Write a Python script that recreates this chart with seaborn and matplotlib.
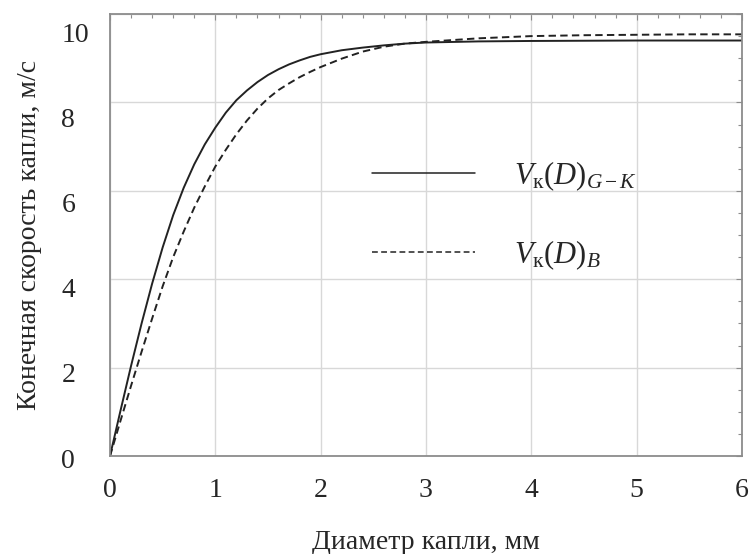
import numpy as np
import pandas as pd
import seaborn as sns
import matplotlib
matplotlib.use("Agg")
import matplotlib.pyplot as plt
from matplotlib.transforms import ScaledTranslation

# Drop diameter, mm
diam_gk = [0.0, 0.1, 0.2, 0.3, 0.4, 0.5, 0.6, 0.7, 0.8, 0.9, 1.0, 1.1, 1.2, 1.3, 1.4,
           1.5, 1.6, 1.7, 1.8, 1.9, 2.0, 2.2, 2.4, 2.6, 2.8, 3.0, 3.5, 4.0, 5.0, 6.0]
# Terminal velocity, Gunn-Kinzer, m/s
vel_gk = [0.0, 1.03, 2.04, 3.0, 3.9, 4.72, 5.45, 6.07, 6.6, 7.05, 7.43, 7.77, 8.05, 8.27,
          8.46, 8.62, 8.75, 8.86, 8.95, 9.03, 9.09, 9.18, 9.24, 9.29, 9.33, 9.355, 9.38,
          9.39, 9.40, 9.40]

diam_b = [0.0, 0.1, 0.2, 0.3, 0.4, 0.5, 0.6, 0.7, 0.8, 0.9, 1.0, 1.1, 1.2, 1.3, 1.4,
          1.5, 1.6, 1.7, 1.8, 1.9, 2.0, 2.2, 2.4, 2.6, 2.8, 3.0, 3.5, 4.0, 4.5, 5.0,
          5.5, 6.0]
# Terminal velocity, Beard, m/s
vel_b = [0.0, 0.8, 1.59, 2.36, 3.11, 3.84, 4.5, 5.08, 5.62, 6.1, 6.55, 6.93, 7.28, 7.59,
         7.86, 8.09, 8.28, 8.43, 8.57, 8.69, 8.80, 8.99, 9.15, 9.26, 9.33, 9.37, 9.45,
         9.50, 9.52, 9.53, 9.54, 9.54]

x_ticks = [0, 1, 2, 3, 4, 5, 6]
y_ticks = [0, 2, 4, 6, 8, 10]
label_gk = r"$V_{\mathrm{к}}(D)_{G-K}$"
label_b = r"$V_{\mathrm{к}}(D)_{B}$"

sns.set_style("white")
plt.rcParams["font.family"] = ["Liberation Serif", "DejaVu Serif"]
plt.rcParams["mathtext.fontset"] = "custom"
plt.rcParams["mathtext.rm"] = "Liberation Serif"
plt.rcParams["mathtext.it"] = "Liberation Serif:italic"

df_gk = pd.DataFrame({"D": diam_gk, "V": vel_gk})
df_b = pd.DataFrame({"D": diam_b, "V": vel_b})

fig = plt.figure(figsize=(7.49, 5.54), dpi=100)
ax = fig.add_axes([110 / 749, 1 - 456 / 554, 632 / 749, 442 / 554])

line_color = "#222222"
sns.lineplot(data=df_gk, x="D", y="V", ax=ax, color=line_color, lw=1.4,
             label=label_gk)
sns.lineplot(data=df_b, x="D", y="V", ax=ax, color=line_color, lw=1.4,
             dashes=False, label=label_b)
ax.lines[1].set_linestyle((0, (3.8, 2.2)))

ax.set_xlim(0, 6)
ax.set_ylim(0, 10)
ax.set_xticks(x_ticks)
ax.set_yticks(y_ticks)
ax.set_xticks(np.arange(0, 6.01, 0.2), minor=True)
ax.set_yticks(np.arange(0, 10.01, 0.5), minor=True)
ax.set_xticklabels([str(t) for t in x_ticks])
ax.set_yticklabels([str(t) for t in y_ticks])

ax.grid(True, which="major", color="#d8d8d8", lw=1.0)
for sp in ax.spines.values():
    sp.set_color("#8c8c8c")
    sp.set_linewidth(1.3)

ax.tick_params(which="both", direction="in", top=True, right=True,
               color="#8c8c8c", width=0.8)
ax.tick_params(which="major", length=4)
ax.tick_params(which="minor", length=3)
ax.tick_params(axis="x", which="major", labelsize=20, pad=16)
ax.tick_params(axis="y", which="major", labelsize=20, pad=35)

ax.set_xlabel("Диаметр капли, мм", fontsize=20, labelpad=19)
ax.set_ylabel("Конечная скорость капли, м/с", fontsize=20, labelpad=14)

leg = ax.legend(loc="upper left", bbox_to_anchor=(0.414, 0.672), frameon=False,
                fontsize=22, handlelength=3.37, handletextpad=1.3,
                labelspacing=1.5, borderpad=0, borderaxespad=0)
for h in leg.get_lines():
    h.set_linewidth(1.1)

# y tick labels: left-aligned, slightly stepped downward
for tick, v in zip(ax.yaxis.get_major_ticks(), y_ticks):
    lab = tick.label1
    lab.set_horizontalalignment("left")
    dy = (2 + 1.6 * v) / 100.0
    lab.set_transform(lab.get_transform() + ScaledTranslation(0, -dy, fig.dpi_scale_trans))

fig.savefig("out.png", dpi=100)
